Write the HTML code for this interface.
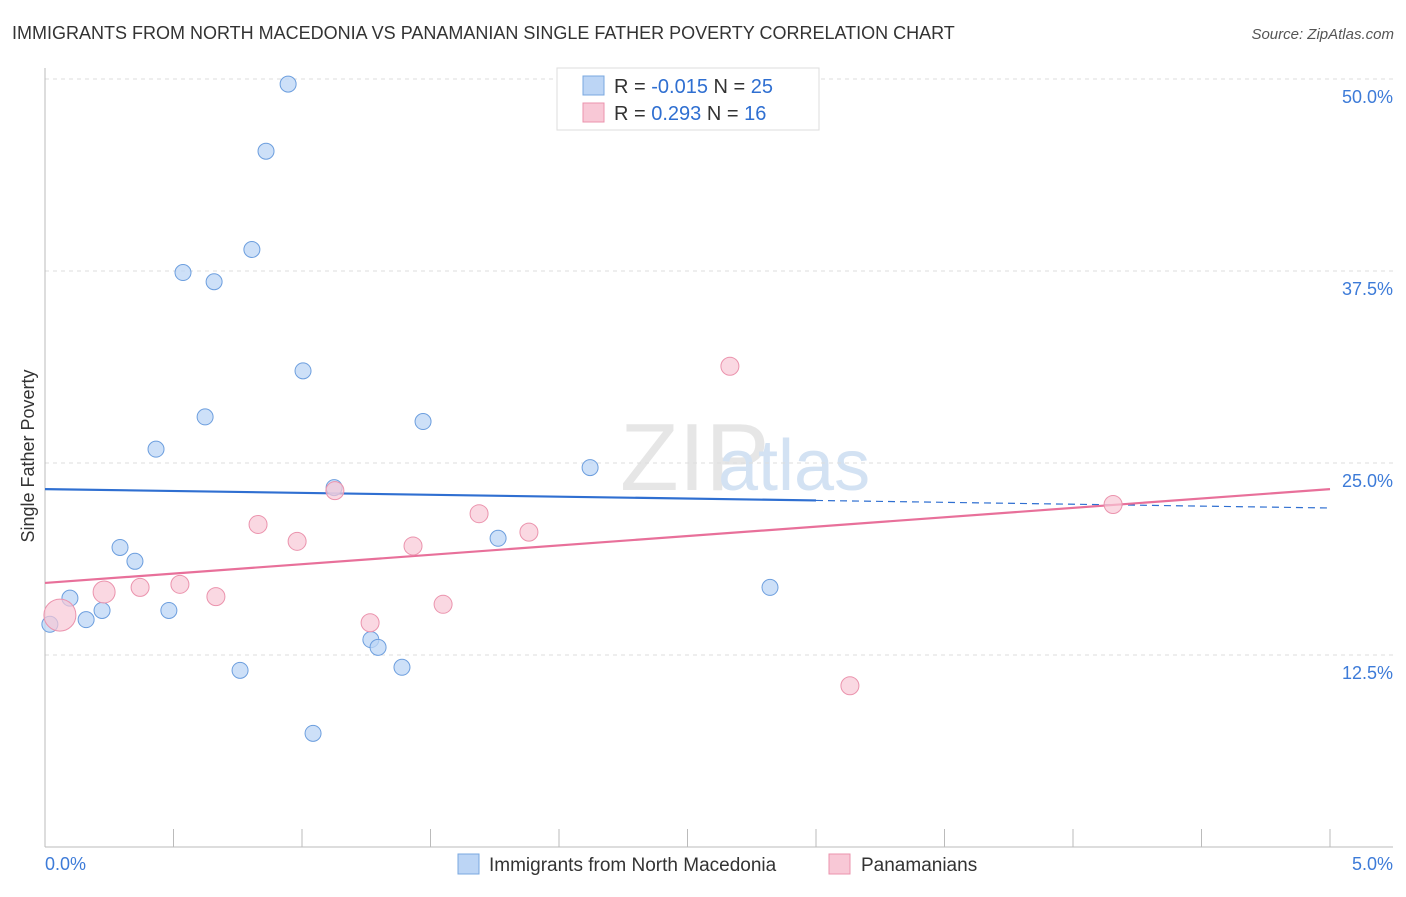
<!DOCTYPE html>
<html><head><meta charset="utf-8"><style>
body{margin:0;background:#fff;font-family:"Liberation Sans",sans-serif}
svg text{font-family:"Liberation Sans",sans-serif}
</style></head><body>
<svg id="c" width="1406" height="892">
<text x="12" y="39" font-size="18" fill="#333">IMMIGRANTS FROM NORTH MACEDONIA VS PANAMANIAN SINGLE FATHER POVERTY CORRELATION CHART</text>
<text x="1394" y="39" font-size="15" fill="#555" text-anchor="end" font-style="italic">Source: ZipAtlas.com</text>
<text x="620" y="490" font-size="96" fill="#e6e6e6" font-family="Liberation Serif">ZIP</text>
<text x="718" y="490" font-size="72" fill="#d3e2f3">atlas</text>
<text transform="translate(34,456) rotate(-90)" font-size="18" fill="#333" text-anchor="middle">Single Father Poverty</text>
<g id="grid"></g><g id="axes"></g><g id="trend"></g><g id="pts"></g>
<g>
<rect x="557" y="68" width="262" height="62" fill="#fff" stroke="#ddd"/>
<rect x="583" y="76" width="21" height="19" fill="#bcd5f5" stroke="#7aa8e0"/>
<text x="614" y="93" font-size="20" fill="#333">R = <tspan fill="#2f6fd1">-0.015</tspan>   N = <tspan fill="#2f6fd1">25</tspan></text>
<rect x="583" y="103" width="21" height="19" fill="#f8c8d6" stroke="#eb93ad"/>
<text x="614" y="120" font-size="20" fill="#333">R =   <tspan fill="#2f6fd1">0.293</tspan>   N =  <tspan fill="#2f6fd1">16</tspan></text>
</g>
<g>
<rect x="458" y="854" width="21" height="20" fill="#bcd5f5" stroke="#7aa8e0"/>
<text x="489" y="871" font-size="19" fill="#333">Immigrants from North Macedonia</text>
<rect x="829" y="854" width="21" height="20" fill="#f8c8d6" stroke="#eb93ad"/>
<text x="861" y="871" font-size="19" fill="#333">Panamanians</text>
</g>
<text x="45" y="870" font-size="18" fill="#3d7bd8">0.0%</text>
<text x="1393" y="870" font-size="18" fill="#3d7bd8" text-anchor="end">5.0%</text>
</svg>
<script>
const yTicks=[12.5,25,37.5,50];
const yTickLabels=["12.5%","25.0%","37.5%","50.0%"];
const blueX=[0.946,0.86,0.805,0.537,0.658,1.004,0.623,1.471,0.432,2.121,1.125,1.763,0.292,0.35,0.097,0.16,0.222,0.482,0.019,1.268,1.296,0.759,1.389,1.043,2.821];
const blueY=[49.67,45.3,38.9,37.4,36.8,31.0,28.0,27.7,25.9,24.7,23.4,20.1,19.5,18.6,16.2,14.8,15.4,15.4,14.5,13.5,13.0,11.5,11.7,7.4,16.9];
const pinkX=[0.058,0.23,0.37,0.525,0.665,0.829,0.981,1.128,1.265,1.432,1.549,1.689,1.883,2.665,3.132,4.156];
const pinkY=[15.1,16.6,16.9,17.1,16.3,21.0,19.9,23.2,14.6,19.6,15.8,21.7,20.5,31.3,10.5,22.3];
const pinkSize=[16,11,9,9,9,9,9,9,9,9,9,9,9,9,9,9];
const blueTrend=[23.3,22.07];
const pinkTrend=[17.19,23.3];
const NS="http://www.w3.org/2000/svg";
const X=v=>45+v/5*1285, Y=v=>847-v/12.5*192;
function mk(p,t,a){const e=document.createElementNS(NS,t);for(const k in a)e.setAttribute(k,a[k]);document.getElementById(p).appendChild(e);return e;}
yTicks.forEach((t,i)=>{
 const l=mk('grid','line',{x1:45,x2:1393,y1:Y(t),y2:Y(t),stroke:'#ddd','stroke-dasharray':'4,4'});
 
 
 const tx=mk('grid','text',{x:1393,y:Y(t)+24,'font-size':18,fill:'#3d7bd8','text-anchor':'end'});
 tx.textContent=yTickLabels[i];
 
 
});
const ax=mk('axes','line',{x1:45,x2:1393,y1:847,y2:847,stroke:'#bbb'});


const ay=mk('axes','line',{x1:45,x2:45,y1:68,y2:847,stroke:'#bbb'});


for(let i=0;i<=10;i++){
 const t=mk('axes','line',{x1:X(i*0.5),x2:X(i*0.5),y1:829,y2:847,stroke:'#bbb'});
 
 
}
const bt=mk('trend','line',{x1:X(0),y1:Y(blueTrend[0]),x2:X(3),y2:Y(blueTrend[0]+(blueTrend[1]-blueTrend[0])*0.6),stroke:'#2f6fd1','stroke-width':2.2});


const bd=mk('trend','line',{x1:X(3),y1:Y(blueTrend[0]+(blueTrend[1]-blueTrend[0])*0.6),x2:X(5),y2:Y(blueTrend[1]),stroke:'#2f6fd1','stroke-width':1.2,'stroke-dasharray':'7,5'});


const pt=mk('trend','line',{x1:X(0),y1:Y(pinkTrend[0]),x2:X(5),y2:Y(pinkTrend[1]),stroke:'#e8709a','stroke-width':2.2});


blueX.forEach((v,i)=>{
 const c=mk('pts','circle',{cx:X(v),cy:Y(blueY[i]),r:8,fill:'#bcd5f5','fill-opacity':0.75,stroke:'#6c9ede','stroke-width':1});
 
 
});
pinkX.forEach((v,i)=>{
 const c=mk('pts','circle',{cx:X(v),cy:Y(pinkY[i]),r:pinkSize[i],fill:'#f8c8d6','fill-opacity':0.7,stroke:'#eb93ad','stroke-width':1});
 
 
});
</script>
</body></html>
